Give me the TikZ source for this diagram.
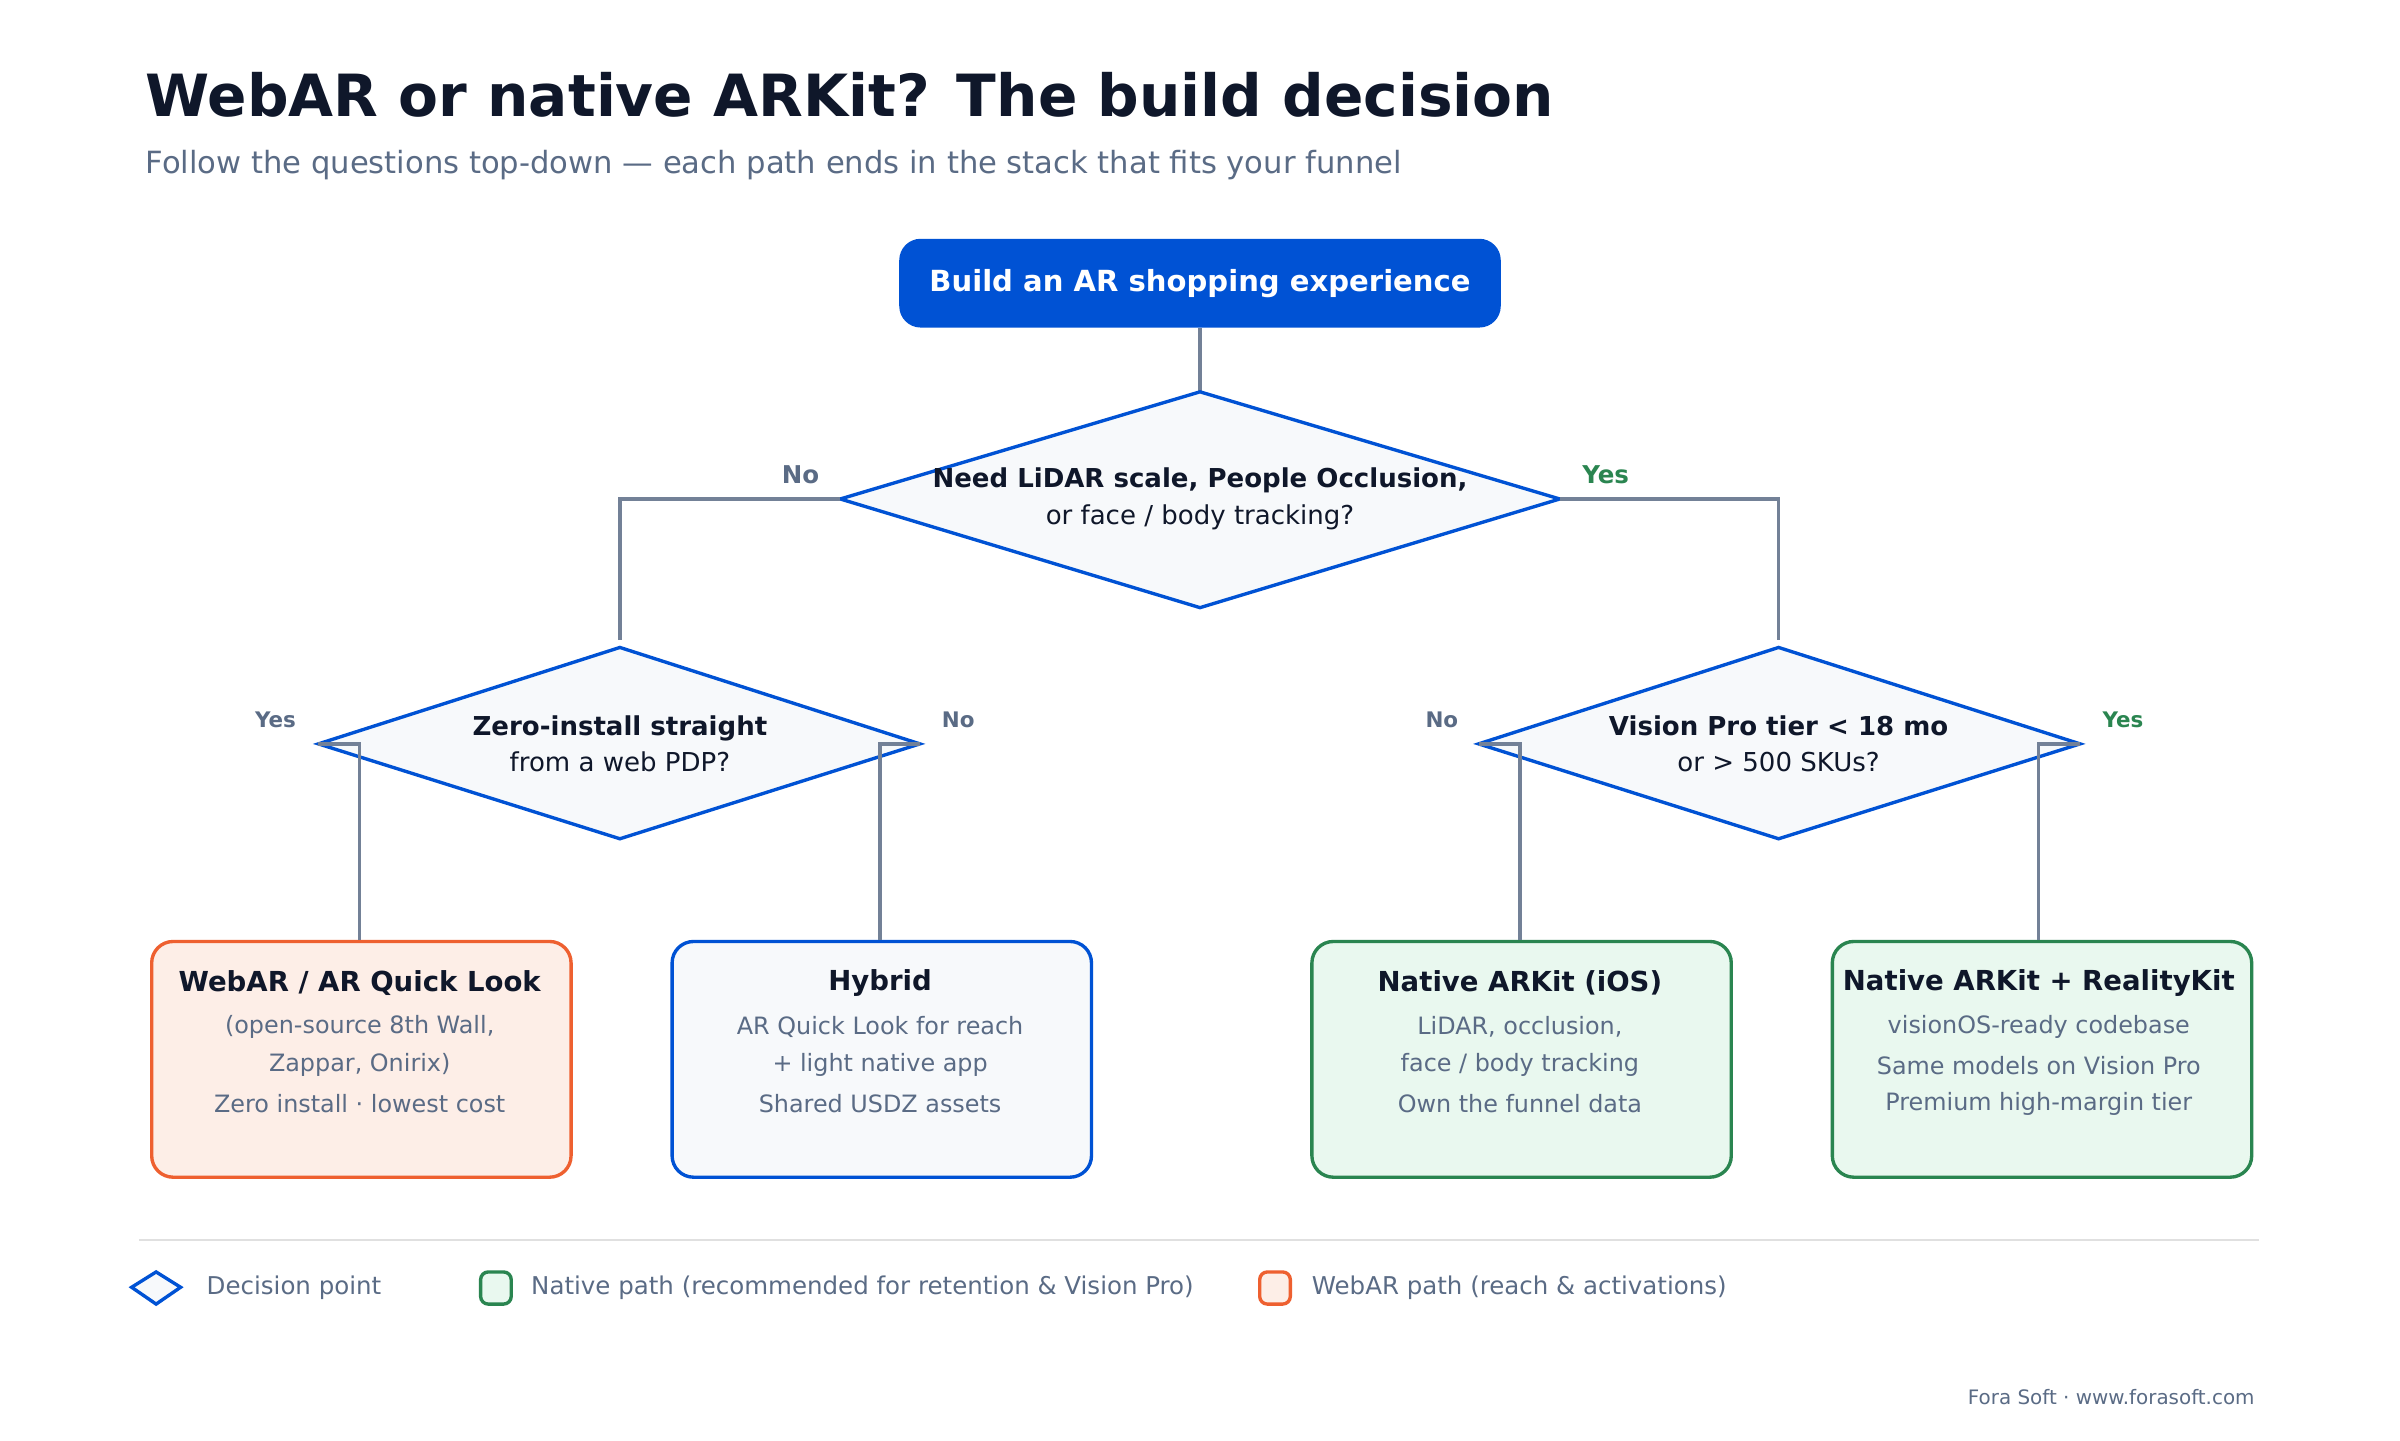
\documentclass[tikz,border=0pt]{standalone}
\usepackage{fontspec}
\setmainfont{DejaVu Sans}
\begin{document}
\begin{tikzpicture}[x=0.5pt,y=-0.5pt,
 dk/.style={text=black!85!blue},
 gr/.style={text=slate},
 conn/.style={draw=slate!85,line width=1.1pt},
 dia/.style={draw=blueA,fill=fillG,line width=1.1pt},
 box/.style={rounded corners=7pt,line width=1.1pt,minimum width=137pt,minimum height=77pt,anchor=north west}]
\definecolor{blueA}{HTML}{0052D4}
\definecolor{slate}{HTML}{5A6B85}
\definecolor{fillG}{HTML}{F7F9FB}
\definecolor{greenA}{HTML}{2A8550}
\definecolor{greenF}{HTML}{E9F8EF}
\definecolor{orA}{HTML}{EE6030}
\definecolor{orF}{HTML}{FDEEE7}
\definecolor{ink}{HTML}{0F172A}
\useasboundingbox (0,0) rectangle (1568,941);
\fill[white] (0,0) rectangle (1568,941);
\node[anchor=west,text=ink,font=\fontsize{19}{22}\selectfont\bfseries] (t) at (88,62) {WebAR or native ARKit? The build decision};
\node[anchor=west,text=slate,font=\fontsize{10}{12}\selectfont] (st) at (88,108) {Follow the questions top-down — each path ends in the stack that fits your funnel};
\node[fill=blueA,rounded corners=7pt,minimum width=196.5pt,minimum height=29pt,text=white,font=\fontsize{9.5}{11}\selectfont\bfseries,inner sep=0] (top) at (784,185) {Build an AR shopping experience};
% diamond 1
\coordinate (d1t) at (784,256); \coordinate (d1l) at (549,326); \coordinate (d1r) at (1019,326); \coordinate (d1b) at (784,397);
\draw[conn] (top.south) -- (d1t);
\draw[dia] (d1t)--(d1r)--(d1b)--(d1l)--cycle;
\node[text=ink,align=center,font=\fontsize{8.5}{12}\selectfont] (d1) at (784,326) {\textbf{Need LiDAR scale, People Occlusion,}\\or face / body tracking?};
\coordinate (d2t) at (405,423); \coordinate (d2l) at (208,486); \coordinate (d2r) at (601,486); \coordinate (d2b) at (405,548);
\coordinate (d3t) at (1162,423); \coordinate (d3l) at (966,486); \coordinate (d3r) at (1359,486); \coordinate (d3b) at (1162,548);
\coordinate (e2) at (405,418); \coordinate (e3) at (1162,418);
\draw[conn] (d1l) -| (e2);
\draw[conn] (d1r) -| (e3);
\node[font=\fontsize{8}{10}\selectfont\bfseries,text=slate] (ln) at (523,310) {No};
\node[font=\fontsize{8}{10}\selectfont\bfseries,text=greenA] (ly) at (1049,310) {Yes};
\draw[dia] (d2t)--(d2r)--(d2b)--(d2l)--cycle;
\draw[dia] (d3t)--(d3r)--(d3b)--(d3l)--cycle;
\node[text=ink,align=center,font=\fontsize{8.5}{12}\selectfont] (d2) at (405,486) {\textbf{Zero-install straight}\\from a web PDP?};
\node[text=ink,align=center,font=\fontsize{8.5}{12}\selectfont] (d3) at (1162,486) {\textbf{Vision Pro tier < 18 mo}\\or > 500 SKUs?};
\node[font=\fontsize{7}{9}\selectfont\bfseries,text=slate] at (180,470) {Yes};
\node[font=\fontsize{7}{9}\selectfont\bfseries,text=slate] at (626,470) {No};
\node[font=\fontsize{7}{9}\selectfont\bfseries,text=slate] at (942,470) {No};
\node[font=\fontsize{7}{9}\selectfont\bfseries,text=greenA] at (1387,470) {Yes};
% boxes
\node[box,draw=orA,fill=orF] (b1) at (98,614) {};
\node[box,draw=blueA,fill=fillG] (b2) at (438,614) {};
\node[box,draw=greenA,fill=greenF] (b3) at (856,614) {};
\node[box,draw=greenA,fill=greenF] (b4) at (1196,614) {};
\draw[conn] (d2l) -- (235,486) -- (b1.north -| 235,0);
\draw[conn] (d2r) -- (575,486) -- (b2.north -| 575,0);
\draw[conn] (d3l) -- (993,486) -- (b3.north -| 993,0);
\draw[conn] (d3r) -- (1332,486) -- (b4.north -| 1332,0);
\foreach \n/\x/\ti/\a/\b/\c in {
 1/235/{WebAR / AR Quick Look}/{(open-source 8th Wall,}/{Zappar, Onirix)}/{Zero install · lowest cost},
 2/575/{Hybrid}/{AR Quick Look for reach}/{+ light native app}/{Shared USDZ assets},
 3/993/{Native ARKit (iOS)}/{LiDAR, occlusion,}/{face / body tracking}/{Own the funnel data},
 4/1332/{Native ARKit + RealityKit}/{visionOS-ready codebase}/{Same models on Vision Pro}/{Premium high-margin tier}}{
 \node[text=ink,font=\fontsize{9}{11}\selectfont\bfseries] (bt\n) at (\x,642) {\ti};
 \node[text=slate,font=\fontsize{7.8}{10}\selectfont] (ba\n) at (\x,671) {\a};
 \node[text=slate,font=\fontsize{7.8}{10}\selectfont] (bb\n) at (\x,696) {\b};
 \node[text=slate,font=\fontsize{7.8}{10}\selectfont] (bc\n) at (\x,721) {\c};
}
\draw[black!12,line width=0.6pt] (91,810) -- (1476,810);
\draw[draw=blueA,fill=fillG,line width=1.1pt] (86,841)--(102,831)--(118,841)--(102,852)--cycle;
\node[anchor=west,text=slate,font=\fontsize{8}{10}\selectfont] at (128,841) {Decision point};
\draw[draw=greenA,fill=greenF,line width=1.1pt,rounded corners=2.5pt] (314,831) rectangle (334,852);
\node[anchor=west,text=slate,font=\fontsize{8}{10}\selectfont] at (340,841) {Native path (recommended for retention \& Vision Pro)};
\draw[draw=orA,fill=orF,line width=1.1pt,rounded corners=2.5pt] (823,831) rectangle (843,852);
\node[anchor=west,text=slate,font=\fontsize{8}{10}\selectfont] at (850,841) {WebAR path (reach \& activations)};
\node[anchor=east,text=slate,font=\fontsize{6.5}{8}\selectfont] at (1480,913) {Fora Soft · www.forasoft.com};
\end{tikzpicture}
\end{document}
